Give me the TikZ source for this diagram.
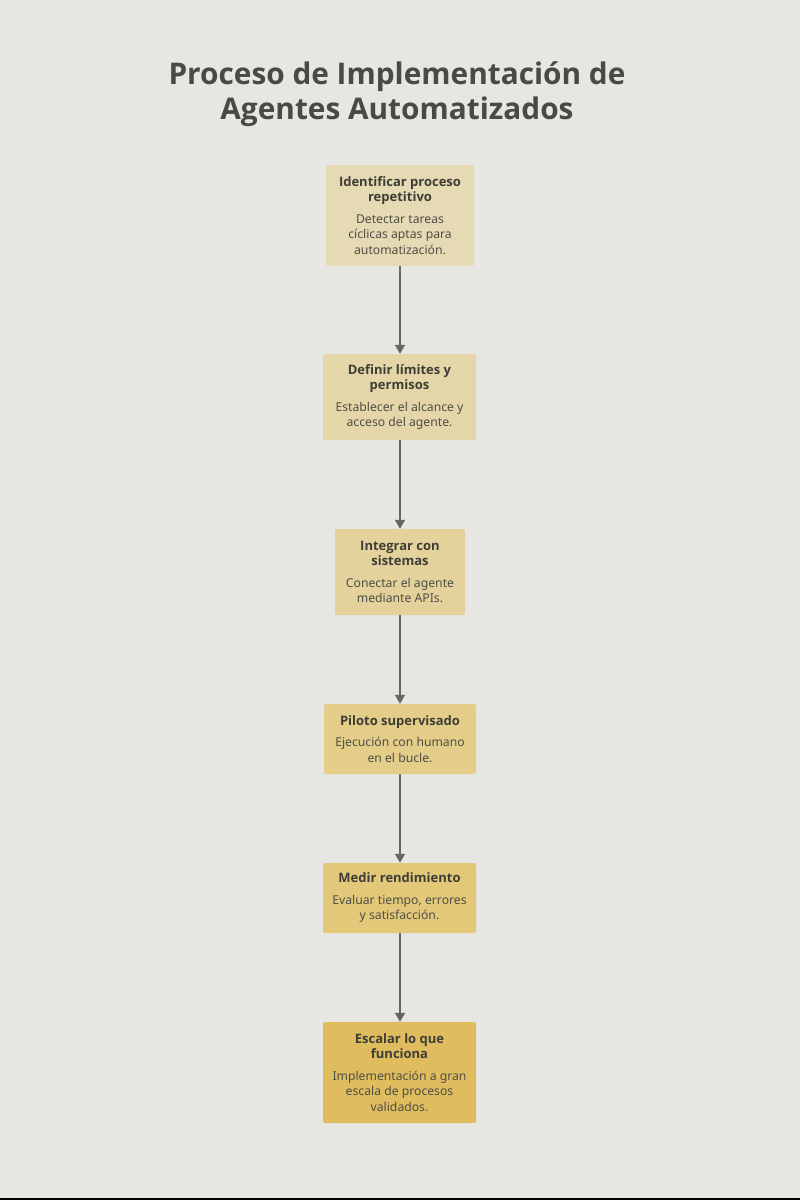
\documentclass[tikz,border=0pt]{standalone}
\usepackage{fontspec}
\setmainfont{Noto Sans}
\newfontfamily\titlefont{Open Sans}
\usetikzlibrary{arrows.meta}
\definecolor{bg}{HTML}{E6E6E3}
\definecolor{ttl}{HTML}{4A4A42}
\definecolor{hdc}{HTML}{3E3E36}
\definecolor{dsc}{HTML}{4F4F47}
\definecolor{cA}{HTML}{E6DAB5}
\definecolor{cB}{HTML}{E5D6A9}
\definecolor{cC}{HTML}{E4D29C}
\definecolor{cD}{HTML}{E3CD88}
\definecolor{cE}{HTML}{E2C878}
\definecolor{cF}{HTML}{DFBC5E}
\definecolor{arr}{HTML}{666666}
\tikzset{
  stepbox/.style={rounded corners=2pt, draw=none, align=center, inner sep=0pt, anchor=center,
    font=\fontsize{12.2}{15.5}\selectfont},
  flow/.style={draw=arr, line width=1.5pt, -{Triangle[length=9pt,width=10pt]}},
}
\newcommand{\hdt}[1]{{\titlefont\fontsize{13}{16}\selectfont\bfseries\color{hdc}#1}}
\newcommand{\dst}[1]{{\color{dsc}#1}}
\begin{document}
\begin{tikzpicture}[x=1pt,y=-1pt]
\fill[bg] (0,0) rectangle (800,1200);
\useasboundingbox (0,0) rectangle (800,1200);
\fill[black] (0,1198) rectangle (800,1200);
\node[font=\titlefont\fontsize{29.8}{34.5}\selectfont\bfseries, text=ttl, align=center] (title) at (397,94) {Proceso de Implementación de\\Agentes Automatizados};

\node[stepbox, fill=cA, minimum width=148pt, minimum height=101pt] (n1) at (400,215.5)
  {\hdt{Identificar proceso}\\\hdt{repetitivo}\\[6pt]\dst{Detectar tareas}\\\dst{cíclicas aptas para}\\\dst{automatización.}};
\node[stepbox, fill=cB, minimum width=153pt, minimum height=86pt] (n2) at (399.5,397)
  {\hdt{Definir límites y}\\\hdt{permisos}\\[6pt]\dst{Establecer el alcance y}\\\dst{acceso del agente.}};
\node[stepbox, fill=cC, minimum width=130pt, minimum height=86pt] (n3) at (400,572)
  {\hdt{Integrar con}\\\hdt{sistemas}\\[6pt]\dst{Conectar el agente}\\\dst{mediante APIs.}};
\node[stepbox, fill=cD, minimum width=152pt, minimum height=70pt] (n4) at (400,739)
  {\hdt{Piloto supervisado}\\[6pt]\dst{Ejecución con humano}\\\dst{en el bucle.}};
\node[stepbox, fill=cE, minimum width=153pt, minimum height=70pt] (n5) at (399.5,898)
  {\hdt{Medir rendimiento}\\[6pt]\dst{Evaluar tiempo, errores}\\\dst{y satisfacción.}};
\node[stepbox, fill=cF, minimum width=153pt, minimum height=101pt] (n6) at (399.5,1072.5)
  {\hdt{Escalar lo que}\\\hdt{funciona}\\[6pt]\dst{Implementación a gran}\\\dst{escala de procesos}\\\dst{validados.}};

\draw[flow] (n1.south -| 400,0) -- (n2.north -| 400,0);
\draw[flow] (n2.south -| 400,0) -- (n3.north -| 400,0);
\draw[flow] (n3.south -| 400,0) -- (n4.north -| 400,0);
\draw[flow] (n4.south -| 400,0) -- (n5.north -| 400,0);
\draw[flow] (n5.south -| 400,0) -- (n6.north -| 400,0);
\end{tikzpicture}
\end{document}
